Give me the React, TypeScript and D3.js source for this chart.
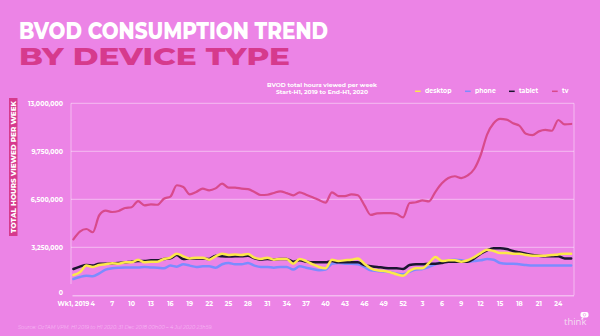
import React from "react";
import * as d3 from "d3";

const weeks2019: number[] = d3.range(1, 53);
const weeks2020: number[] = d3.range(1, 27);
const categories: string[] = [
  ...weeks2019.map((w) => `2019-W${w}`),
  ...weeks2020.map((w) => `2020-W${w}`),
];

const xTickLabels: string[] = [
  "Wk1, 2019", "4", "7", "10", "13", "16", "19", "22", "25", "28", "31", "34", "37", "40",
  "43", "46", "49", "52", "3", "6", "9", "12", "15", "18", "21", "24",
];
const yTicks: number[] = [0, 3250000, 6500000, 9750000, 13000000];

const tv: number[] = [
  3.79, 4.31, 4.49, 4.27, 5.42, 5.73, 5.64, 5.71, 5.91, 5.96,
  6.38, 6.09, 6.16, 6.13, 6.54, 6.68, 7.45, 7.33, 6.84, 7.0,
  7.22, 7.11, 7.24, 7.56, 7.29, 7.29, 7.22, 7.19, 7.0, 6.79,
  6.81, 6.93, 7.04, 6.92, 6.77, 6.97, 6.81, 6.64, 6.45, 6.27,
  6.97, 6.72, 6.72, 6.84, 6.77, 6.11, 5.44, 5.55, 5.57, 5.57,
  5.5, 5.28, 6.25, 6.3, 6.43, 6.36, 7.01, 7.58, 7.94, 8.06,
  7.94, 8.12, 8.55, 9.5, 10.9, 11.65, 11.94, 11.9, 11.65, 11.48,
  10.94, 10.85, 11.1, 11.2, 11.14, 11.87, 11.57, 11.6,
];
const desktop: number[] = [
  1.37, 1.56, 2.01, 1.92, 2.05, 2.1, 2.17, 2.14, 2.23, 2.23,
  2.41, 2.23, 2.28, 2.28, 2.46, 2.55, 2.82, 2.64, 2.5, 2.55,
  2.55, 2.41, 2.64, 2.82, 2.73, 2.77, 2.73, 2.8, 2.55, 2.46,
  2.55, 2.41, 2.46, 2.46, 2.14, 2.46, 2.32, 2.1, 1.92, 1.83,
  2.41, 2.32, 2.37, 2.41, 2.5, 2.14, 1.83, 1.69, 1.65, 1.56,
  1.42, 1.33, 1.65, 1.83, 1.83, 2.19, 2.59, 2.32, 2.37, 2.37,
  2.28, 2.37, 2.59, 2.86, 3.09, 3.0, 2.86, 2.86, 2.82, 2.82,
  2.73, 2.68, 2.68, 2.68, 2.73, 2.77, 2.82, 2.82,
];
const phone: number[] = [
  1.1, 1.24, 1.33, 1.29, 1.49, 1.74, 1.83, 1.87, 1.89, 1.89,
  1.89, 1.92, 1.89, 1.87, 1.83, 2.01, 1.94, 2.1, 2.01, 1.92,
  1.96, 1.96, 1.87, 2.1, 2.19, 2.1, 2.1, 2.19, 2.01, 1.92,
  1.92, 1.87, 1.92, 1.92, 1.74, 1.96, 1.87, 1.78, 1.69, 1.74,
  2.14, 2.19, 2.14, 2.14, 2.1, 1.92, 1.69, 1.65, 1.6, 1.56,
  1.47, 1.42, 1.6, 1.74, 1.78, 1.92, 2.1, 2.28, 2.37, 2.41,
  2.37, 2.28, 2.32, 2.37, 2.46, 2.41, 2.19, 2.14, 2.14, 2.1,
  2.05, 2.01, 2.01, 2.01, 2.01, 2.01, 2.01, 2.01,
];
const tablet: number[] = [
  1.78, 1.94, 2.05, 2.01, 2.14, 2.14, 2.17, 2.19, 2.23, 2.28,
  2.32, 2.32, 2.37, 2.37, 2.46, 2.5, 2.73, 2.46, 2.5, 2.5,
  2.5, 2.46, 2.68, 2.64, 2.62, 2.64, 2.64, 2.68, 2.5, 2.41,
  2.46, 2.41, 2.46, 2.46, 2.28, 2.37, 2.28, 2.23, 2.23, 2.23,
  2.32, 2.23, 2.23, 2.23, 2.23, 2.05, 1.96, 1.92, 1.87, 1.83,
  1.83, 1.78, 2.05, 2.1, 2.1, 2.14, 2.14, 2.19, 2.28, 2.28,
  2.28, 2.28, 2.5, 2.82, 3.05, 3.18, 3.18, 3.13, 3.0, 2.91,
  2.82, 2.73, 2.68, 2.64, 2.64, 2.64, 2.5, 2.5,
];

const seriesNames = ["phone", "tablet", "desktop", "tv"];
const seriesColors: Record<string, string> = {
  desktop: "#fce84a",
  phone: "#7b8cff",
  tablet: "#1b1530",
  tv: "#d84a8c",
};
const seriesData: Record<string, number[]> = { desktop, phone, tablet, tv };
const legendOrder = ["desktop", "phone", "tablet", "tv"];
const legendX = [415, 465, 509, 552];

const BG = "#ec84e6";
const DEEP = "#d63a8d";
const FONT = "Montserrat, 'Open Sans', sans-serif";

export default function App() {
  const left = 71;
  const right = 574;
  const top = 103.3;
  const bottom = 295.3;

  const x = d3.scalePoint<string>().domain(categories).range([73.4, 571.2]);
  const y = d3.scaleLinear().domain([0, 13000000]).range([bottom, top]);

  const line = (vals: number[]) =>
    d3
      .line<number>()
      .x((_, i) => x(categories[i]) as number)
      .y((d) => y(d * 1000000))
      .curve(d3.curveMonotoneX)(vals) || "";

  const fmt = d3.format(",");
  const tickIdx = categories.map((_, i) => i).filter((i) => i % 3 === 0);

  return (
    <svg
      width={600}
      height={336}
      style={{ position: "fixed", left: 0, top: 0, display: "block" }}
      fontFamily={FONT}
    >
      <rect x={0} y={0} width={600} height={336} fill={BG} />

      {/* Title */}
      <text x={19} y={38.5} fontSize={24} fontWeight={800} fill="#ffffff" textLength={309} lengthAdjust="spacingAndGlyphs">
        BVOD CONSUMPTION TREND
      </text>
      <text x={19} y={65} fontSize={24} fontWeight={800} fill={DEEP} textLength={271} lengthAdjust="spacingAndGlyphs">
        BY DEVICE TYPE
      </text>

      {/* Subtitle */}
      <text x={322} y={87.3} fontSize={6} fontWeight={700} fill="#fff" textAnchor="middle">
        BVOD total hours viewed per week
      </text>
      <text x={322} y={94.2} fontSize={6} fontWeight={700} fill="#fff" textAnchor="middle">
        Start-H1, 2019 to End-H1, 2020
      </text>

      {/* Legend */}
      {legendOrder.map((k, i) => (
        <g key={k}>
          <line x1={legendX[i]} x2={legendX[i] + 5.7} y1={91.3} y2={91.3} stroke={seriesColors[k]} strokeWidth={1.5} />
          <text x={legendX[i] + 10} y={93.4} fontSize={6.2} fontWeight={700} fill="#fff">
            {k}
          </text>
        </g>
      ))}

      {/* Grid */}
      {yTicks.filter((t) => t > 0).map((t) => (
        <line key={t} x1={left} x2={right} y1={y(t)} y2={y(t)} stroke="#ffffff" strokeOpacity={0.45} strokeWidth={1} />
      ))}
      <line x1={right} x2={right} y1={top} y2={bottom} stroke="#ffffff" strokeOpacity={0.45} strokeWidth={1} />
      <line x1={left} x2={left} y1={top} y2={284} stroke="#ffffff" strokeOpacity={0.45} strokeWidth={1} />
      <line x1={72.5} x2={right} y1={bottom + 0.5} y2={bottom + 0.5} stroke="#ffffff" strokeOpacity={0.45} strokeWidth={1.5} />

      {/* Y tick labels */}
      {yTicks.map((t) => (
        <text key={t} x={63} y={y(t) + (t === 0 ? 0 : 2.2)} fontSize={6.3} fontWeight={700} fill="#fff" textAnchor="end">
          {fmt(t)}
        </text>
      ))}

      {/* X tick labels */}
      {tickIdx.map((i, j) => (
        <text key={i} x={x(categories[i]) as number} y={305.5} fontSize={6.3} fontWeight={700} fill="#fff" textAnchor="middle">
          {xTickLabels[j]}
        </text>
      ))}

      {/* Y axis title */}
      <rect x={9} y={98} width={8.5} height={138} fill={DEEP} />
      <text
        transform="translate(15.6,167) rotate(-90)"
        fontSize={6.8}
        fontWeight={800}
        fill="#fff"
        textAnchor="middle"
        textLength={132}
        lengthAdjust="spacingAndGlyphs"
      >
        TOTAL HOURS VIEWED PER WEEK
      </text>

      {/* Lines */}
      {seriesNames.map((k) => (
        <path
          key={k}
          d={line(seriesData[k])}
          fill="none"
          stroke={seriesColors[k]}
          strokeWidth={k === "tv" ? 2.2 : 2.5}
          strokeLinejoin="round"
          strokeLinecap="round"
        />
      ))}

      {/* Source */}
      <text x={18} y={328.5} fontSize={5} fill="#f6b8f2" fontStyle="italic">
        Source: OzTAM VPM. H1 2019 to H1 2020. 31 Dec 2018 00h00 – 4 Jul 2020 23h59.
      </text>

      {/* Logo */}
      <text x={564} y={325} fontSize={9.5} fill="#f3ddf2" fontFamily="'Open Sans', sans-serif">
        think
      </text>
      <rect x={580.5} y={312} width={8} height={5.5} rx={2} fill="#ffffff" />
      <path d="M582 317.5 L581 320 L584 317.5 Z" fill="#ffffff" />
      <circle cx={584.5} cy={314.75} r={1.3} fill="none" stroke={BG} strokeWidth={0.6} />
    </svg>
  );
}
